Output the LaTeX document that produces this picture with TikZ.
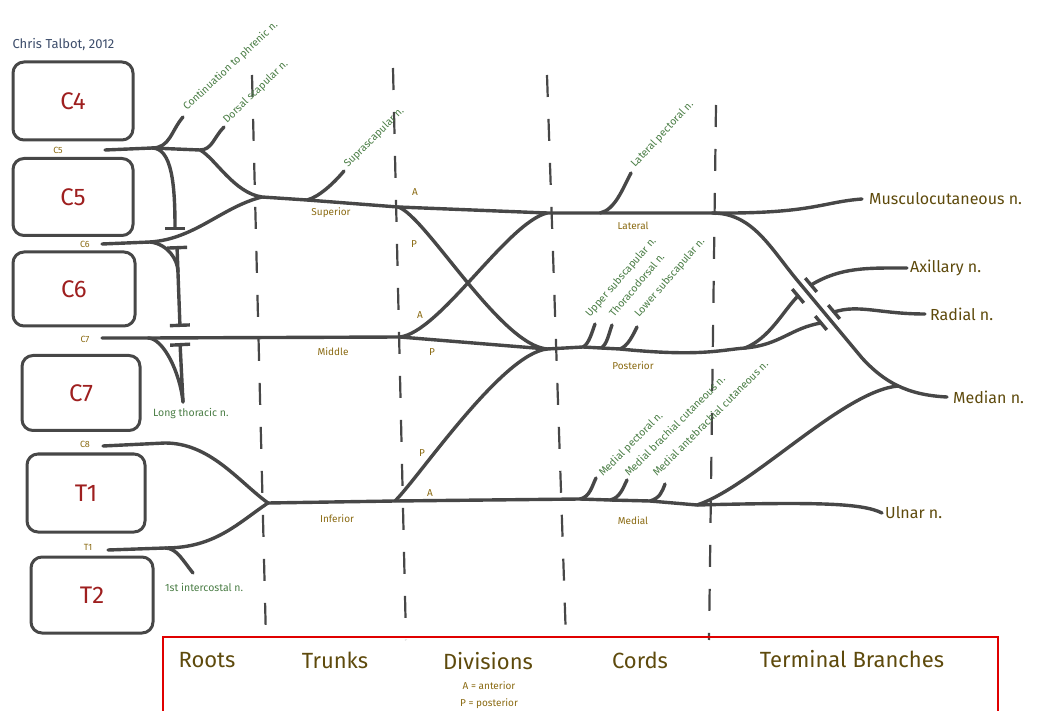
\documentclass[tikz,border=0pt]{standalone}
\usepackage{fontspec}
\setmainfont{Fira Sans}
\usepackage{tikz}
\usetikzlibrary{arrows.meta,positioning}
\definecolor{nervegray}{HTML}{474747}
\definecolor{rootred}{HTML}{9E1F1F}
\definecolor{twiggreen}{HTML}{4A7D45}
\definecolor{trunkgold}{HTML}{8A6A12}
\definecolor{termbrown}{HTML}{5E4A0C}
\definecolor{authorblue}{HTML}{3D4D6B}
\definecolor{framered}{HTML}{E00000}

\begin{document}
\begin{tikzpicture}[
  x=1pt, y=-1pt,
  vert/.style={draw=nervegray,line width=3pt,rounded corners=11pt,text=rootred,font=\fontsize{24}{26}\selectfont},
  nerve/.style={draw=nervegray,line width=3.4pt,line cap=round,line join=round},
  thoracic/.style={nerve,{Bar[width=20pt]}-{Bar[width=20pt]}},
  hop/.style={fill=nervegray,minimum width=18pt,minimum height=3.4pt,inner sep=0pt},
  divider/.style={draw=nervegray,line width=2.2pt,dash pattern=on 22pt off 22pt},
  rootlab/.style={text=trunkgold,font=\fontsize{9}{10}\selectfont},
  trunklab/.style={text=trunkgold,font=\fontsize{10}{11}\selectfont},
  twig/.style={text=twiggreen,font=\fontsize{10.5}{12}\selectfont,anchor=base west,inner sep=0pt},
  termlab/.style={text=termbrown,font=\fontsize{16}{18}\selectfont,inner sep=1pt},
  head/.style={text=termbrown,font=\fontsize{22}{25}\selectfont}
]
\useasboundingbox (0,0) rectangle (1037,711);

\node[text=authorblue,font=\fontsize{13}{14}\selectfont,anchor=west] (author) at (9,45) {Chris Talbot, 2012};

\node[vert,minimum width=120pt,minimum height=78pt] (c4) at (73,101) {C4};
\node[vert,minimum width=120pt,minimum height=77pt] (c5) at (73,197) {C5};
\node[vert,minimum width=122pt,minimum height=74pt] (c6) at (74,289) {C6};
\node[vert,minimum width=118pt,minimum height=75pt] (c7) at (81,393) {C7};
\node[vert,minimum width=118pt,minimum height=78pt] (t1) at (86,493) {T1};
\node[vert,minimum width=122pt,minimum height=76pt] (t2) at (92,595) {T2};

\node[rootlab] (lc5) at (58,150) {C5};
\node[rootlab] (lc6) at (85,244) {C6};
\node[rootlab] (lc7) at (85,339) {C7};
\node[rootlab] (lc8) at (85,444) {C8};
\node[rootlab] (lt1) at (88,547) {T1};

\draw[divider] (252,75) -- (266,640);
\draw[divider] (393,68) -- (406,640);
\draw[divider] (547,75) -- (566,640);
\draw[divider] (716,105) -- (709,640);

\coordinate (r5) at (105,150);
\coordinate (j5a) at (152,148);
\coordinate (j5b) at (200,150);
\coordinate (phren) at (183,117);
\coordinate (dsc) at (224,127);
\coordinate (lt5) at (175,230);
\coordinate (sup) at (262,197);
\coordinate (r6) at (102,244);
\coordinate (j6) at (150,242);
\coordinate (lt6a) at (177,246);
\coordinate (lt6m) at (178,272);
\coordinate (lt6b) at (180,327);
\coordinate (r7) at (102,338);
\coordinate (j7) at (148,338);
\coordinate (lt7a) at (180,343);
\coordinate (lt7b) at (183,402);
\coordinate (dm) at (400,337);
\coordinate (r8) at (103,446);
\coordinate (j8) at (165,443);
\coordinate (r1) at (108,550);
\coordinate (j1) at (165,548);
\coordinate (ic) at (193,573);
\coordinate (inf) at (268,503);
\coordinate (sss) at (307,200);
\coordinate (ssn) at (344,171);
\coordinate (ds) at (398,207);
\coordinate (lat) at (547,213);
\coordinate (lpb) at (600,213);
\coordinate (lpn) at (631,173);
\coordinate (lc) at (712,213);
\coordinate (mcn) at (862,199);
\coordinate (post) at (547,349);
\coordinate (usb) at (583,347);
\coordinate (usn) at (595,324);
\coordinate (tdb) at (601,348);
\coordinate (tdn) at (612,325);
\coordinate (lsb) at (620,349);
\coordinate (lsn) at (637,327);
\coordinate (pj) at (745,348);
\coordinate (di) at (395,501);
\coordinate (mpb) at (580,499);
\coordinate (mpn) at (596,478);
\coordinate (mbb) at (610,500);
\coordinate (mbn) at (627,480);
\coordinate (mab) at (650,501);
\coordinate (man) at (665,484);
\coordinate (mcj) at (697,505);
\coordinate (uln) at (882,513);
\coordinate (lx) at (797,280);
\coordinate (ly) at (862,358);
\coordinate (med) at (947,397);
\coordinate (mj) at (898,386);
\coordinate (axb) at (798,296);
\coordinate (axr) at (811,285);
\coordinate (axn) at (907,268);
\coordinate (rab) at (821,323);
\coordinate (rar) at (834,312);
\coordinate (ran) at (925,314);

\draw[nerve] (r5) -- (j5a) -- (j5b) .. controls +(15,8) and +(-28,-4) .. (sup) -- (sss) -- (ds) -- (lat) -- (lpb) -- (lc) .. controls +(100,1) and +(-40,3) .. (mcn);
\draw[nerve] (j5a) .. controls +(18,0) and +(-12,14) .. (phren);
\draw[nerve] (j5b) .. controls +(12,0) and +(-10,10) .. (dsc);
\draw[nerve,-{Bar[width=20pt]}] (j5a) .. controls +(20,0) and +(0,-45) .. (lt5);
\draw[nerve] (r6) -- (j6) .. controls +(45,-3) and +(-40,10) .. (sup);
\draw[nerve] (j6) .. controls +(18,2) and +(0,-12) .. (lt6m);
\draw[thoracic] (lt6a) -- (lt6b);
\draw[nerve] (r7) -- (j7) -- (dm) -- (post);
\draw[nerve] (j7) .. controls +(15,0) and +(-3,-30) .. (lt7b);
\draw[nerve,{Bar[width=20pt]}-] (lt7a) -- (lt7b);
\draw[nerve] (r8) -- (j8) .. controls +(45,0) and +(-30,-22) .. (inf);
\draw[nerve] (r1) -- (j1) .. controls +(50,0) and +(-30,20) .. (inf);
\draw[nerve] (j1) .. controls +(12,0) and +(-10,-12) .. (ic);
\draw[nerve] (inf) -- (di) -- (mpb) -- (mbb) -- (mab) -- (mcj) .. controls +(120,-3) and +(-20,-10) .. (uln);
\draw[nerve] (sss) .. controls +(12,-3) and +(-10,12) .. (ssn);
\draw[nerve] (ds) .. controls +(27,8) and +(-47,-4) .. (post);
\draw[nerve] (dm) .. controls +(40,-5) and +(-40,10) .. (lat);
\draw[nerve] (di) .. controls +(25,-25) and +(-45,5) .. (post);
\draw[nerve] (lpb) .. controls +(15,-3) and +(-8,15) .. (lpn);
\draw[nerve] (post) -- (usb) -- (tdb) -- (lsb) .. controls +(80,8) and +(-25,2) .. (pj);
\draw[nerve] (usb) .. controls +(6,-3) and +(-3,8) .. (usn);
\draw[nerve] (tdb) .. controls +(6,-3) and +(-3,8) .. (tdn);
\draw[nerve] (lsb) .. controls +(8,-3) and +(-4,8) .. (lsn);
\draw[nerve] (mpb) .. controls +(10,-2) and +(-4,8) .. (mpn);
\draw[nerve] (mbb) .. controls +(10,-2) and +(-4,8) .. (mbn);
\draw[nerve] (mab) .. controls +(10,-3) and +(-3,8) .. (man);
\draw[nerve] (pj) .. controls +(25,-10) and +(-15,15) .. (axb);
\draw[nerve] (pj) .. controls +(35,-3) and +(-30,5) .. (rab);
\draw[nerve] (lc) .. controls +(40,0) and +(-28,-34) .. (lx) -- (ly) .. controls +(22,24) and +(-40,-2) .. (med);
\draw[nerve] (mcj) .. controls +(55,-18) and +(-55,5) .. (mj);
\draw[nerve] (axr) .. controls +(30,-18) and +(-40,0) .. (axn);
\draw[nerve] (rar) .. controls +(25,-8) and +(-45,0) .. (ran);
\node[hop,rotate=-50] (axbar1) at (axb) {};
\node[hop,rotate=-50] (axbar2) at (axr) {};
\node[hop,rotate=-50] (rabar1) at (rab) {};
\node[hop,rotate=-50] (rabar2) at (rar) {};

\node[trunklab] (tsup) at (331,213) {Superior};
\node[trunklab] (tmid) at (333,352) {Middle};
\node[trunklab] (tinf) at (337,519) {Inferior};
\node[trunklab] (da1) at (415,192) {A};
\node[trunklab] (dp1) at (414,244) {P};
\node[trunklab] (da2) at (420,315) {A};
\node[trunklab] (dp2) at (432,352) {P};
\node[trunklab] (dp3) at (422,453) {P};
\node[trunklab] (da3) at (430,493) {A};
\node[trunklab] (clat) at (633,226) {Lateral};
\node[trunklab] (cpost) at (633,366) {Posterior};
\node[trunklab] (cmed) at (633,521) {Medial};

\node[twig,rotate=43] (tphren) at (187,111) {Continuation to phrenic n.};
\node[twig,rotate=44] (tdsc) at (227,124) {Dorsal scapular n.};
\node[twig,rotate=45] (tssn) at (348,168) {Suprascapular n.};
\node[twig,rotate=47] (tlpn) at (635,168) {Lateral pectoral n.};
\node[twig,rotate=49] (tusn) at (590,318) {Upper subscapular n.};
\node[twig,rotate=50] (ttdn) at (614,318) {Thoracodorsal n.};
\node[twig,rotate=49] (tlsn) at (639,318) {Lower subscapular n.};
\node[twig,rotate=45] (tmpn) at (603,477) {Medial pectoral n.};
\node[twig,rotate=45] (tmbn) at (629,477) {Medial brachial cutaneous n.};
\node[twig,rotate=45] (tman) at (657,477) {Medial antebrachial cutaneous n.};
\node[twig] (tlt) at (153,417) {Long thoracic n.};
\node[twig] (tic) at (165,591) {1st intercostal n.};

\node[termlab,right=6pt of mcn] (tmcn) {Musculocutaneous n.};
\node[termlab,right=2pt of axn] (taxn) {Axillary n.};
\node[termlab,right=4pt of ran] (tran) {Radial n.};
\node[termlab,right=5pt of med] (tmed) {Median n.};
\node[termlab,right=2pt of uln] (tuln) {Ulnar n.};

\draw[draw=framered,line width=1.6pt] (163,711) -- (163,637) -- (998,637) -- (998,711);
\node[head] (hroots) at (207,660) {Roots};
\node[head] (htrunks) at (335,660) {Trunks};
\node[head] (hdiv) at (488,661) {Divisions};
\node[head] (hcords) at (640,660) {Cords};
\node[head] (hterm) at (852,659) {Terminal Branches};
\node[trunklab] (hant) at (489,686) {A = anterior};
\node[trunklab] (hpost) at (489,704) {P = posterior};
\end{tikzpicture}
\end{document}
